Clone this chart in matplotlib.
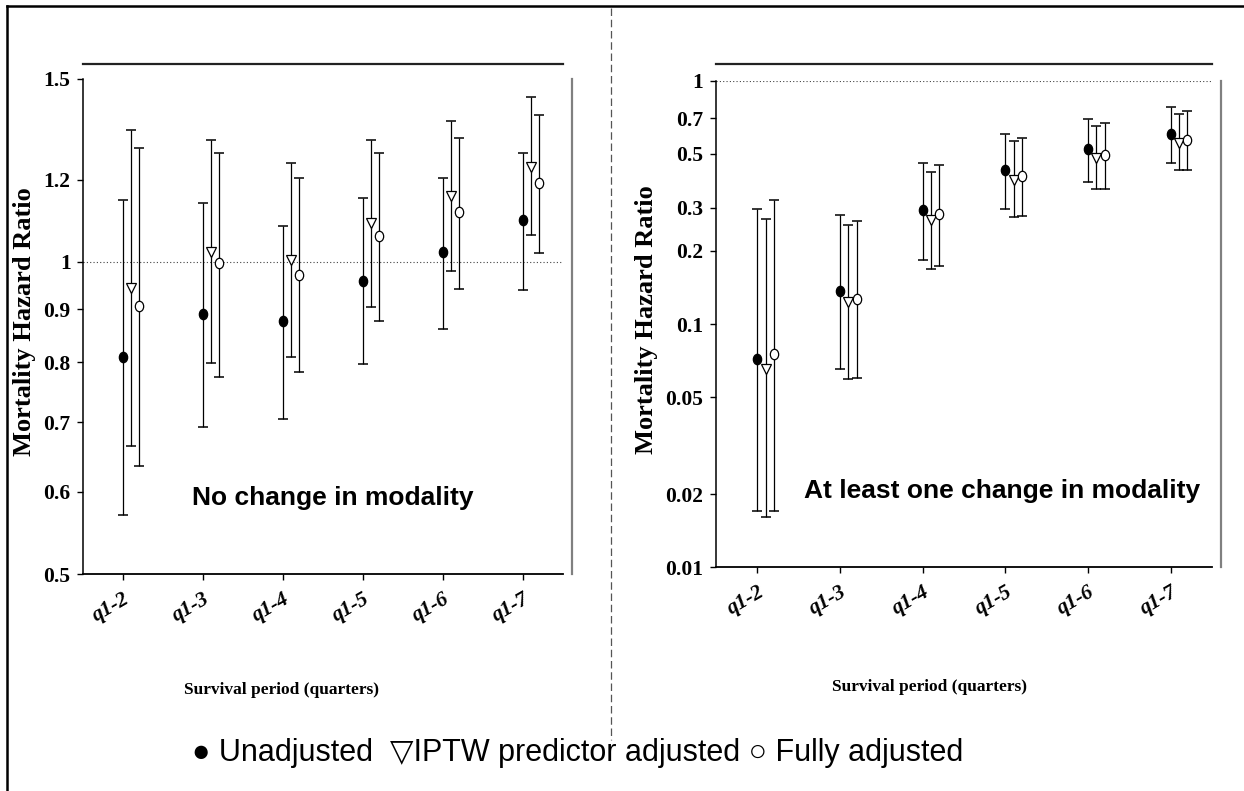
import numpy as np
import matplotlib
matplotlib.use('Agg')
import matplotlib.pyplot as plt
from matplotlib.lines import Line2D
from matplotlib.path import Path
from matplotlib.transforms import Affine2D
from matplotlib.ticker import NullLocator

# Survival periods (quarters)
periods = ['q1-2', 'q1-3', 'q1-4', 'q1-5', 'q1-6', 'q1-7']

# No change in modality
left_unadj = [0.810, 0.891, 0.876, 0.959, 1.021, 1.097]
left_unadj_lo = [0.570, 0.693, 0.706, 0.797, 0.862, 0.940]
left_unadj_hi = [1.147, 1.140, 1.083, 1.152, 1.203, 1.274]
left_iptw = [0.943, 1.021, 1.003, 1.089, 1.156, 1.235]
left_iptw_lo = [0.664, 0.799, 0.810, 0.905, 0.980, 1.062]
left_iptw_hi = [1.339, 1.311, 1.244, 1.311, 1.368, 1.440]
left_full = [0.907, 0.996, 0.971, 1.059, 1.116, 1.191]
left_full_lo = [0.636, 0.775, 0.782, 0.877, 0.942, 1.019]
left_full_hi = [1.286, 1.274, 1.203, 1.272, 1.316, 1.385]

# At least one change in modality
right_unadj = [0.0718, 0.137, 0.293, 0.430, 0.522, 0.602]
right_unadj_lo = [0.0171, 0.0653, 0.184, 0.297, 0.382, 0.458]
right_unadj_hi = [0.296, 0.280, 0.458, 0.606, 0.698, 0.780]
right_iptw = [0.0651, 0.123, 0.268, 0.391, 0.480, 0.553]
right_iptw_lo = [0.0161, 0.0593, 0.168, 0.275, 0.359, 0.428]
right_iptw_hi = [0.270, 0.255, 0.420, 0.564, 0.653, 0.732]
right_full = [0.0753, 0.127, 0.283, 0.406, 0.495, 0.571]
right_full_lo = [0.0171, 0.060, 0.173, 0.278, 0.359, 0.428]
right_full_hi = [0.323, 0.266, 0.449, 0.582, 0.672, 0.748]

left_ticks = [0.5, 0.6, 0.7, 0.8, 0.9, 1, 1.2, 1.5]
left_labels = ['0.5', '0.6', '0.7', '0.8', '0.9', '1', '1.2', '1.5']
right_ticks = [0.01, 0.02, 0.05, 0.1, 0.2, 0.3, 0.5, 0.7, 1]
right_labels = ['0.01', '0.02', '0.05', '0.1', '0.2', '0.3', '0.5', '0.7', '1']

SERIF = 'Liberation Serif'
SANS = ['Liberation Sans', 'DejaVu Sans']

# slightly tall ellipse for the dots
ellipse = Affine2D().scale(0.8, 1.0).transform_path(Path.unit_circle())

W, H = 1244, 791
fig = plt.figure(figsize=(W / 100, H / 100), dpi=100)


def fx(px):
    return px / W


def fy(py):
    return 1 - py / H


def draw_panel(ax, series, yticks, ylabels, ylim, note, note_xy, top_off):
    x = np.arange(1, len(periods) + 1)
    styles = [
        (ellipse, 'black', 0.0),
        ('v', 'white', 0.1),
        (ellipse, 'white', 0.2),
    ]
    for (mid, lo, hi), (mk, face, off) in zip(series, styles):
        mid = np.array(mid)
        err = [mid - np.array(lo), np.array(hi) - mid]
        ms = 7.5 if mk is ellipse else 7
        ax.errorbar(x + off, mid, yerr=err, fmt='none', ecolor='black',
                    elinewidth=0.9, capsize=3.6, capthick=1.1, zorder=2)
        ax.plot(x + off, mid, linestyle='none', marker=mk, markersize=ms,
                markerfacecolor=face, markeredgecolor='black',
                markeredgewidth=0.9, zorder=3)

    ax.set_yscale('log')
    ax.set_ylim(*ylim)
    ax.set_xlim(0.5, 6.5)
    ax.axhline(1, color='#444444', linestyle=(0, (1, 2)), linewidth=0.8,
               zorder=1)
    ax.set_yticks(yticks)
    ax.set_yticklabels(ylabels)
    ax.yaxis.set_minor_locator(NullLocator())
    ax.set_xticks(x)
    ax.set_xticklabels(periods)
    for lab in ax.get_yticklabels():
        lab.set_fontfamily(SERIF)
        lab.set_fontweight('bold')
        lab.set_fontsize(15.5)
    for lab in ax.get_xticklabels():
        lab.set_fontfamily(SERIF)
        lab.set_fontweight('bold')
        lab.set_fontstyle('italic')
        lab.set_fontsize(15.5)
        lab.set_rotation(30)
        lab.set_ha('right')
        lab.set_va('top')
        lab.set_rotation_mode('anchor')
    ax.tick_params(axis='y', direction='out', length=4, width=1, pad=5)
    ax.tick_params(axis='x', direction='out', length=4.5, width=1, pad=6)
    ax.spines['top'].set_visible(False)
    ax.spines['right'].set_visible(False)
    ax.spines['left'].set_linewidth(1.1)
    ax.spines['bottom'].set_linewidth(1.3)

    # frame line above and grey line to the right
    ax.add_line(Line2D([0, 1], [top_off, top_off], transform=ax.transAxes,
                       color='#222222', linewidth=1.6, clip_on=False))
    ax.add_line(Line2D([1.019, 1.019], [0, 1], transform=ax.transAxes,
                       color='#808080', linewidth=1.6, clip_on=False))

    ax.text(note_xy[0], note_xy[1], note, transform=fig.transFigure,
            ha='center', va='center', fontsize=19, fontweight='bold',
            family=SANS)


ax1 = fig.add_axes([fx(83), fy(574), fx(480), (574 - 79) / H])
draw_panel(ax1,
           [(left_unadj, left_unadj_lo, left_unadj_hi),
            (left_iptw, left_iptw_lo, left_iptw_hi),
            (left_full, left_full_lo, left_full_hi)],
           left_ticks, left_labels, (0.5, 1.5),
           'No change in modality', (fx(333), fy(498)), 1.030)

ax2 = fig.add_axes([fx(716), fy(567.3), fx(496), (567.3 - 80.7) / H])
draw_panel(ax2,
           [(right_unadj, right_unadj_lo, right_unadj_hi),
            (right_iptw, right_iptw_lo, right_iptw_hi),
            (right_full, right_full_lo, right_full_hi)],
           right_ticks, right_labels, (0.01, 1),
           'At least one change in modality', (fx(1002), fy(491)), 1.034)

# axis titles
for xc, yc in [(25, 322), (646, 320)]:
    fig.text(fx(xc), fy(yc), 'Mortality Hazard Ratio', rotation=90,
             ha='center', va='center', fontsize=19, fontweight='bold',
             family=SERIF)
for xc, yc in [(281, 690), (930, 687)]:
    fig.text(fx(xc), fy(yc), 'Survival period (quarters)', ha='center',
             va='center', fontsize=12.5, fontweight='bold', family=SERIF)

# legend line
fig.text(fx(578), fy(753),
         '\u25cf Unadjusted  \u25bdIPTW predictor adjusted \u25cb Fully adjusted',
         ha='center', va='center', fontsize=22, family=SANS)

# outer frame and divider
fig.add_artist(Line2D([fx(7), 1], [fy(5.5), fy(5.5)], color='black',
                      linewidth=1.8))
fig.add_artist(Line2D([fx(7), fx(7)], [fy(5.5), 0], color='black',
                      linewidth=1.8))
fig.add_artist(Line2D([fx(611), fx(611)], [fy(8), fy(740)], color='#555555',
                      linewidth=0.9, linestyle=(0, (6, 3))))

fig.savefig('out.png', dpi=100)
